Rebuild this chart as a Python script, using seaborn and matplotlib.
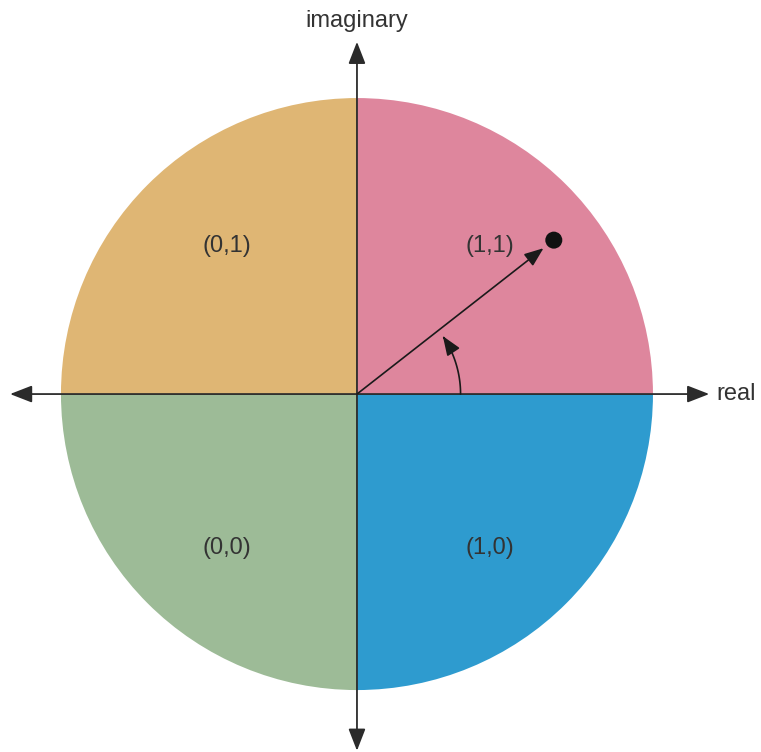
import numpy as np
import pandas as pd
import matplotlib
matplotlib.use("Agg")
import matplotlib.pyplot as plt
import seaborn as sns
from matplotlib.patches import Wedge, FancyArrowPatch
from matplotlib.path import Path

# ---- data ----
quadrant_labels = ["(1,1)", "(0,1)", "(0,0)", "(1,0)"]
quadrant_start_deg = [0, 90, 180, 270]
quadrant_colors = ["#DE869D", "#DFB674", "#9DBB97", "#2E9BCF"]
label_x = [0.45, -0.44, -0.44, 0.45]
label_y = [0.50, 0.50, -0.52, -0.52]
point_x = [0.665]
point_y = [0.52]
axis_labels = ["real", "imaginary"]

sns.set_theme(style="white")
plt.rcParams['font.family'] = ['Liberation Sans', 'DejaVu Sans']

fig = plt.figure(figsize=(7.61, 7.52), dpi=100)
ax = fig.add_axes([0, 0, 1, 1])
ax.set_xlim(-1.206, 1.365)
ax.set_ylim(-1.209, 1.331)
ax.set_aspect("equal")
ax.axis("off")

R = 1.0
for lab, st, col, lx, ly in zip(quadrant_labels, quadrant_start_deg, quadrant_colors, label_x, label_y):
    ax.add_patch(Wedge((0, 0), R, st, st + 90, facecolor=col, edgecolor="none", zorder=1))
    ax.text(lx, ly, lab, fontsize=17, color="#333333", ha="center", va="center", zorder=3)

line_col = "#2b2b2b"
axstyle = "-|>,head_length=0.9,head_width=0.35"
# real axis (both directions)
ax.annotate("", xy=(1.19, 0), xytext=(0, 0),
            arrowprops=dict(arrowstyle=axstyle, mutation_scale=15, color=line_col, lw=1.3, shrinkA=0, shrinkB=0), zorder=4)
ax.annotate("", xy=(-1.172, 0), xytext=(0, 0),
            arrowprops=dict(arrowstyle=axstyle, mutation_scale=15, color=line_col, lw=1.3, shrinkA=0, shrinkB=0), zorder=4)
# imaginary axis
ax.annotate("", xy=(0, 1.19), xytext=(0, 0),
            arrowprops=dict(arrowstyle=axstyle, mutation_scale=15, color=line_col, lw=1.3, shrinkA=0, shrinkB=0), zorder=4)
ax.annotate("", xy=(0, -1.205), xytext=(0, 0),
            arrowprops=dict(arrowstyle=axstyle, mutation_scale=15, color=line_col, lw=1.3, shrinkA=0, shrinkB=0), zorder=4)

ax.text(1.215, 0, axis_labels[0], fontsize=17, color="#333333", ha="left", va="center")
ax.text(0, 1.26, axis_labels[1], fontsize=17, color="#333333", ha="center", va="center")

# vector to the point
df = pd.DataFrame({"x": point_x, "y": point_y})
sns.scatterplot(data=df, x="x", y="y", ax=ax, s=150, color="#111111", edgecolor="none", zorder=5)
ang = np.arctan2(point_y[0], point_x[0])
tip = 0.80
ax.annotate("", xy=(tip * np.cos(ang), tip * np.sin(ang)), xytext=(0, 0),
            arrowprops=dict(arrowstyle="-|>,head_length=0.9,head_width=0.35", mutation_scale=13,
                            color="#1a1a1a", lw=1.2, shrinkA=0, shrinkB=0), zorder=4)

# angle arc
r_arc = 0.35
th = np.linspace(0, np.deg2rad(34), 40)
arc = Path(np.column_stack([r_arc * np.cos(th), r_arc * np.sin(th)]))
ax.add_patch(FancyArrowPatch(path=arc, arrowstyle="-|>,head_length=0.9,head_width=0.35",
                             mutation_scale=13, color="#1a1a1a", lw=1.2, zorder=4))

fig.savefig("out.png", dpi=100)
